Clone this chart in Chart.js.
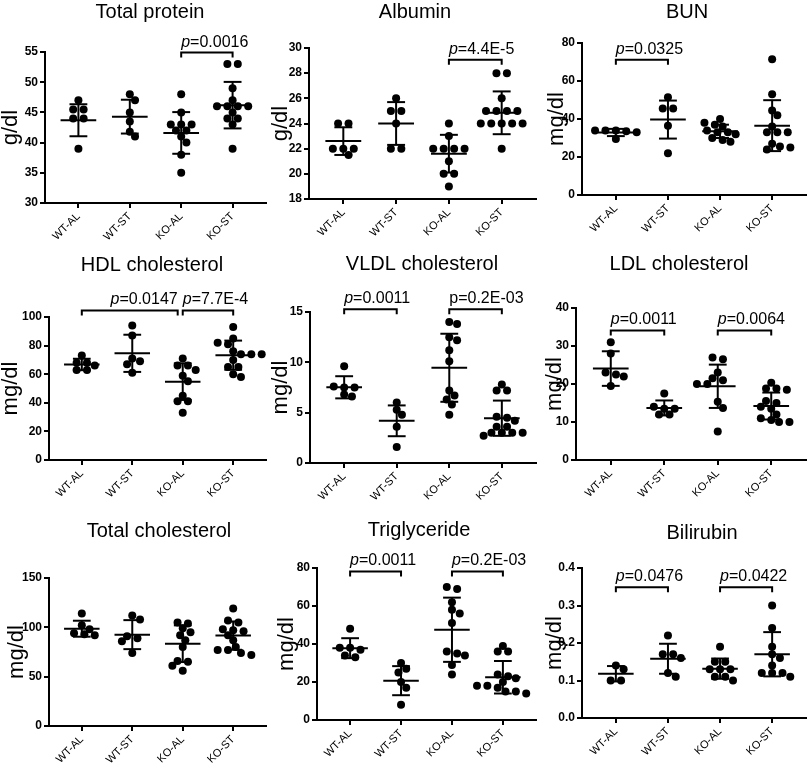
<!DOCTYPE html>
<html>
<head>
<meta charset="utf-8">
<script src="https://cdn.jsdelivr.net/npm/chart.js@4.4.1/dist/chart.umd.min.js"></script>
<style>
  body { margin: 0; background: #fff; width: 810px; height: 769px; position: relative; overflow: hidden; }
  canvas { position: absolute; }
</style>
</head>
<body>
<script>
const groups = ['WT-AL', 'WT-ST', 'KO-AL', 'KO-ST'];

// Total protein (g/dl)
const proteinValues = [
    [47, 45.5, 45.5, 44, 44, 39],
    [48, 47, 45, 43.5, 41.8, 41],
    [48, 45, 43, 43, 43, 42, 42, 41, 40, 38, 35],
    [53, 53, 49, 47, 46, 46, 46, 46, 45, 44, 44, 43, 39]
];
const proteinMean = [43.7, 44.3, 41.6, 46.2];
const proteinSD = [2.65, 2.8, 3.45, 3.85];
const proteinTicks = ['30', '35', '40', '45', '50', '55'];
const proteinP = [{from: 2, to: 3, y: 54.9, text: '=0.0016', italic: true, align: 'left'}];

// Albumin (g/dl)
const albuminValues = [
    [24, 24, 22, 22, 22, 21.5],
    [26, 25, 25, 24, 22, 22],
    [24, 23, 22, 22, 22, 22, 21, 20, 20, 19],
    [28, 28, 26, 25, 25, 25, 25, 24, 24, 24, 24, 24, 22]
];
const albuminMean = [22.6, 24.0, 21.6, 24.85];
const albuminSD = [1.1, 1.7, 1.5, 1.7];
const albuminTicks = ['18', '20', '22', '24', '26', '28', '30'];
const albuminP = [{from: 2, to: 3, y: 29.07, text: '=4.4E-5', italic: true, align: 'left'}];

// BUN (mg/dl)
const bunValues = [
    [34, 34, 34, 33.5, 33, 29.5],
    [51.5, 45.5, 45.5, 36.5, 22],
    [40, 38, 37, 36, 34, 33, 33, 32, 30, 29, 28],
    [71.5, 53, 44.5, 42, 36, 33, 33, 33, 27, 25.5, 25, 24]
];
const bunMean = [32.9, 39.7, 33.5, 36.5];
const bunSD = [1.9, 10, 3.5, 13.4];
const bunTicks = ['0', '20', '40', '60', '80'];
const bunP = [{from: 0, to: 1, y: 71.2, text: '=0.0325', italic: true, align: 'left'}];

// HDL cholesterol (mg/dl)
const hdlValues = [
    [73, 68, 68, 66, 63, 63],
    [94, 87, 71, 69, 67, 61],
    [71, 66, 66, 63, 59, 55, 45, 41, 41, 33],
    [93, 85, 82, 81, 76, 74, 74, 74, 70, 65, 65, 60, 58]
];
const hdlMean = [66.8, 74.6, 54.8, 73.3];
const hdlSD = [4.0, 13, 12.8, 10.2];
const hdlTicks = ['0', '20', '40', '60', '80', '100'];
const hdlP = [
    {from: 0, to: 1.9, y: 104.6, text: '=0.0147', italic: true, align: 'right'},
    {from: 2, to: 3, y: 104.6, text: '=7.7E-4', italic: true, align: 'left'}
];

// VLDL cholesterol (mg/dl)
const vldlValues = [
    [9.6, 7.6, 7.5, 7.5, 6.8, 6.6],
    [6.0, 5.3, 4.8, 3.6, 1.6],
    [14, 13.8, 12.5, 12.2, 11.2, 10.1, 7.2, 6.7, 6.3, 5.8, 4.8],
    [7.8, 7.2, 7.2, 4.6, 4.5, 4.2, 3.6, 3.6, 3.0, 3.0, 3.0, 3.0, 2.7]
];
const vldlMean = [7.52, 4.19, 9.46, 4.45];
const vldlSD = [1.1, 1.53, 3.38, 1.75];
const vldlTicks = ['0', '5', '10', '15'];
const vldlP = [
    {from: 0, to: 1, y: 15.27, text: '=0.0011', italic: true, align: 'left'},
    {from: 2, to: 3, y: 15.27, text: '=0.2E-03', italic: false, align: 'left'}
];

// LDL cholesterol (mg/dl)
const ldlValues = [
    [31, 28, 23, 22.5, 22, 19.5],
    [17.5, 14, 13.5, 13.5, 12, 12],
    [27, 26.5, 23, 21.5, 21, 20, 20, 15.3, 13.7, 7.5],
    [20.3, 18.8, 18.8, 18.5, 15.5, 15, 14, 13.5, 12, 11, 10.5, 10, 10]
];
const ldlMean = [24.06, 13.7, 19.4, 14.2];
const ldlSD = [4.55, 1.97, 5.7, 3.55];
const ldlTicks = ['0', '10', '20', '30', '40'];
const ldlP = [
    {from: 0, to: 1, y: 34.1, text: '=0.0011', italic: true, align: 'left'},
    {from: 2, to: 3, y: 34.1, text: '=0.0064', italic: true, align: 'left'}
];

// Total cholesterol (mg/dl)
const cholValues = [
    [114, 102, 98, 94, 93, 92],
    [112, 108, 91, 89, 86, 74],
    [105, 104, 99, 95, 92, 87, 80, 66, 65, 61, 56],
    [119, 107, 105, 98, 97, 96, 92, 87, 80, 77, 77, 74, 72]
];
const cholMean = [98.6, 92.6, 83.4, 91.6];
const cholSD = [8.1, 14.7, 18.6, 14.35];
const cholTicks = ['0', '50', '100', '150'];
const cholP = [];

// Triglyceride (mg/dl)
const tgValues = [
    [48, 38, 38, 37, 34, 33],
    [30, 27, 25, 20, 17, 8],
    [70, 69, 62, 58, 56, 51, 36, 35, 34, 29, 24],
    [39, 36, 36, 24, 23, 22, 20, 18, 18, 17, 15, 15, 14]
];
const tgMean = [37.8, 20.7, 47.5, 22.5];
const tgSD = [5.25, 7.65, 16.9, 8.55];
const tgTicks = ['0', '20', '40', '60', '80'];
const tgP = [
    {from: 0, to: 1, y: 78.2, text: '=0.0011', italic: true, align: 'left'},
    {from: 2, to: 3, y: 78.2, text: '=0.2E-03', italic: true, align: 'left'}
];

// Bilirubin (mg/dl)
const biliValues = [
    [0.14, 0.13, 0.10, 0.10],
    [0.22, 0.17, 0.17, 0.16, 0.12, 0.11],
    [0.19, 0.15, 0.15, 0.13, 0.13, 0.13, 0.11, 0.11, 0.10],
    [0.30, 0.24, 0.19, 0.17, 0.16, 0.14, 0.12, 0.12, 0.12, 0.11]
];
const biliMean = [0.118, 0.158, 0.1316, 0.17];
const biliSD = [0.0205, 0.04, 0.027, 0.059];
const biliTicks = ['0.0', '0.1', '0.2', '0.3', '0.4'];
const biliP = [
    {from: 0, to: 1, y: 0.349, text: '=0.0476', italic: true, align: 'left'},
    {from: 2, to: 3, y: 0.349, text: '=0.0422', italic: true, align: 'left'}
];

// layout: cell = [left, top, height], area = plot box [left, top, right, bottom],
// titlePos relative to cell, unitX = centre of the rotated unit label from the cell's left edge
const panels = [
    {title: 'Total protein', unit: 'g/dl', values: proteinValues, mean: proteinMean, sd: proteinSD, ticks: proteinTicks, pvals: proteinP,
     cell: [0, 0, 255], area: [45, 52, 268, 203], titlePos: [150, 12], unitX: 11},
    {title: 'Albumin', unit: 'g/dl', values: albuminValues, mean: albuminMean, sd: albuminSD, ticks: albuminTicks, pvals: albuminP,
     cell: [270, 0, 255], area: [309, 48, 537, 199], titlePos: [145, 12], unitX: 11},
    {title: 'BUN', unit: 'mg/dl', values: bunValues, mean: bunMean, sd: bunSD, ticks: bunTicks, pvals: bunP,
     cell: [540, 0, 255], area: [582, 43, 808, 195], titlePos: [147, 12], unitX: 17},
    {title: 'HDL cholesterol', unit: 'mg/dl', values: hdlValues, mean: hdlMean, sd: hdlSD, ticks: hdlTicks, pvals: hdlP,
     cell: [0, 255, 260], area: [49, 317, 269, 460], titlePos: [152, 10], unitX: 11},
    {title: 'VLDL cholesterol', unit: 'mg/dl', values: vldlValues, mean: vldlMean, sd: vldlSD, ticks: vldlTicks, pvals: vldlP,
     cell: [270, 255, 260], area: [310, 312, 538, 463], titlePos: [152, 9], unitX: 11},
    {title: 'LDL cholesterol', unit: 'mg/dl', values: ldlValues, mean: ldlMean, sd: ldlSD, ticks: ldlTicks, pvals: ldlP,
     cell: [540, 255, 260], area: [576, 308, 808, 460], titlePos: [139, 9], unitX: 15},
    {title: 'Total cholesterol', unit: 'mg/dl', values: cholValues, mean: cholMean, sd: cholSD, ticks: cholTicks, pvals: cholP,
     cell: [0, 515, 254], area: [49, 578, 269, 726], titlePos: [159, 16], unitX: 17},
    {title: 'Triglyceride', unit: 'mg/dl', values: tgValues, mean: tgMean, sd: tgSD, ticks: tgTicks, pvals: tgP,
     cell: [270, 515, 254], area: [317, 568, 539, 720], titlePos: [149, 15], unitX: 17},
    {title: 'Bilirubin', unit: 'mg/dl', values: biliValues, mean: biliMean, sd: biliSD, ticks: biliTicks, pvals: biliP,
     cell: [540, 515, 254], area: [582, 568, 809, 718], titlePos: [162, 18], unitX: 15}
];

const X_MIN = -0.65;
const X_MAX = 3.65;
const DOT = 4;        // dot radius
const STEP = 10.5;    // horizontal spacing of dots in a row (px)
const GAP = 7;        // wanted distance between dot centres (px)
const MEAN_HALF = 18; // half width of the mean line (px)
const CAP_HALF = 9;   // half width of the SD caps (px)
const FONT = '"Liberation Sans", Arial, Helvetica, sans-serif';

Chart.defaults.font.family = FONT;
Chart.defaults.color = '#000';

// spread the dots of one group sideways so they do not overlap (like a scatter dot plot)
function swarm(vals, cat, pxX, pxY) {
    const placed = [];
    const sorted = vals.slice().sort((a, b) => b - a);
    const rows = [];
    sorted.forEach(v => {
        const row = rows[rows.length - 1];
        if (row && (row[0] - v) * pxY < 2) row.push(v);
        else rows.push([v]);
    });
    rows.forEach(row => {
        const n = row.length;
        let best = null;
        let bestCost = Infinity;
        for (let k = 0; k <= 16; k++) {
            const s = (k % 2 ? 1 : -1) * Math.ceil(k / 2) * STEP / 4;
            const cand = row.map((v, j) => ({px: (j - (n - 1) / 2) * STEP + s, py: v * pxY, v: v}));
            let cost = 0;
            cand.forEach(c => placed.forEach(q => {
                const d = Math.hypot(c.px - q.px, c.py - q.py);
                if (d < GAP) cost += GAP - d;
            }));
            if (cost === 0) {
                best = cand;
                break;
            }
            if (cost < bestCost) {
                bestCost = cost;
                best = cand;
            }
        }
        placed.push(...best);
    });
    return placed.map(q => ({x: cat + q.px / pxX, y: q.v}));
}

function lineSet(points) {
    return {data: points, showLine: true, borderColor: '#000', borderWidth: 2, pointRadius: 0, fill: false, clip: false};
}

function makePanel(p) {
    const [cx, cy, ch] = p.cell;
    const [l, t, r, b] = p.area;
    const canvas = document.createElement('canvas');
    canvas.width = 270;
    canvas.height = ch;
    canvas.style.left = cx + 'px';
    canvas.style.top = cy + 'px';
    document.body.appendChild(canvas);

    const tickVals = p.ticks.map(parseFloat);
    const yMin = tickVals[0];
    const yMax = tickVals[tickVals.length - 1];
    const pxY = (b - t) / (yMax - yMin);
    const pxX = (r - l) / (X_MAX - X_MIN);

    let dots = [];
    p.values.forEach((vals, i) => {
        dots = dots.concat(swarm(vals, i, pxX, pxY));
    });

    const datasets = [{data: dots, pointRadius: DOT, pointHoverRadius: DOT, pointBackgroundColor: '#000', pointBorderWidth: 0, showLine: false, clip: false}];
    const w = MEAN_HALF / pxX;
    const c = CAP_HALF / pxX;
    p.mean.forEach((m, i) => {
        const s = p.sd[i];
        datasets.push(lineSet([{x: i - w, y: m}, {x: i + w, y: m}]));
        datasets.push(lineSet([{x: i, y: m - s}, {x: i, y: m + s}]));
        datasets.push(lineSet([{x: i - c, y: m + s}, {x: i + c, y: m + s}]));
        datasets.push(lineSet([{x: i - c, y: m - s}, {x: i + c, y: m - s}]));
    });

    // panel title and significance brackets
    const decor = {
        id: 'decor',
        afterDraw(chart) {
            const ctx = chart.ctx;
            const xs = chart.scales.x;
            const ys = chart.scales.y;
            ctx.save();
            ctx.fillStyle = '#000';
            ctx.font = '20px ' + FONT;
            ctx.textAlign = 'center';
            ctx.textBaseline = 'middle';
            ctx.fillText(p.title, p.titlePos[0], p.titlePos[1]);

            ctx.strokeStyle = '#000';
            ctx.lineWidth = 2;
            ctx.textBaseline = 'alphabetic';
            ctx.textAlign = 'left';
            p.pvals.forEach(br => {
                const xa = xs.getPixelForValue(br.from);
                const xb = xs.getPixelForValue(br.to);
                const y = ys.getPixelForValue(br.y);
                ctx.beginPath();
                ctx.moveTo(xa, y + 5);
                ctx.lineTo(xa, y);
                ctx.lineTo(xb, y);
                ctx.lineTo(xb, y + 5);
                ctx.stroke();

                const pFont = (br.italic ? 'italic ' : '') + '16px ' + FONT;
                const restFont = '16px ' + FONT;
                ctx.font = pFont;
                const pw = ctx.measureText('p').width;
                ctx.font = restFont;
                const rw = ctx.measureText(br.text).width;
                const x0 = br.align === 'right' ? xb - pw - rw : xa;
                ctx.font = pFont;
                ctx.fillText('p', x0, y - 6);
                ctx.font = restFont;
                ctx.fillText(br.text, x0 + pw, y - 6);
            });
            ctx.restore();
        }
    };

    new Chart(canvas.getContext('2d'), {
        type: 'scatter',
        data: {datasets: datasets},
        options: {
            responsive: false,
            animation: false,
            events: [],
            layout: {padding: {left: 0, top: t - cy, right: cx + 270 - r, bottom: 0}},
            plugins: {legend: {display: false}, tooltip: {enabled: false}},
            scales: {
                x: {
                    type: 'linear',
                    min: X_MIN,
                    max: X_MAX,
                    afterBuildTicks: scale => { scale.ticks = groups.map((g, i) => ({value: i})); },
                    afterFit: scale => { scale.height = cy + ch - b; },
                    ticks: {
                        callback: v => groups[v],
                        minRotation: 45,
                        maxRotation: 45,
                        font: {size: 11},
                        color: '#000',
                        padding: 2
                    },
                    grid: {drawOnChartArea: false, drawTicks: true, tickLength: 5, color: '#000', lineWidth: 2},
                    border: {display: true, color: '#000', width: 2}
                },
                y: {
                    type: 'linear',
                    min: yMin,
                    max: yMax,
                    afterBuildTicks: scale => { scale.ticks = tickVals.map(v => ({value: v})); },
                    afterFit: scale => { scale.width = l - cx; },
                    ticks: {
                        callback: (v, idx) => p.ticks[idx],
                        font: {size: 12, weight: 'bold'},
                        color: '#000',
                        padding: 2
                    },
                    grid: {drawOnChartArea: false, drawTicks: true, tickLength: 5, color: '#000', lineWidth: 2},
                    border: {display: true, color: '#000', width: 2},
                    title: {display: true, text: p.unit, font: {size: 22, lineHeight: 1}, padding: {top: Math.max(p.unitX - 11, 0), bottom: 0}, color: '#000'}
                }
            }
        },
        plugins: [decor]
    });
}

panels.forEach(makePanel);
</script>
</body>
</html>
